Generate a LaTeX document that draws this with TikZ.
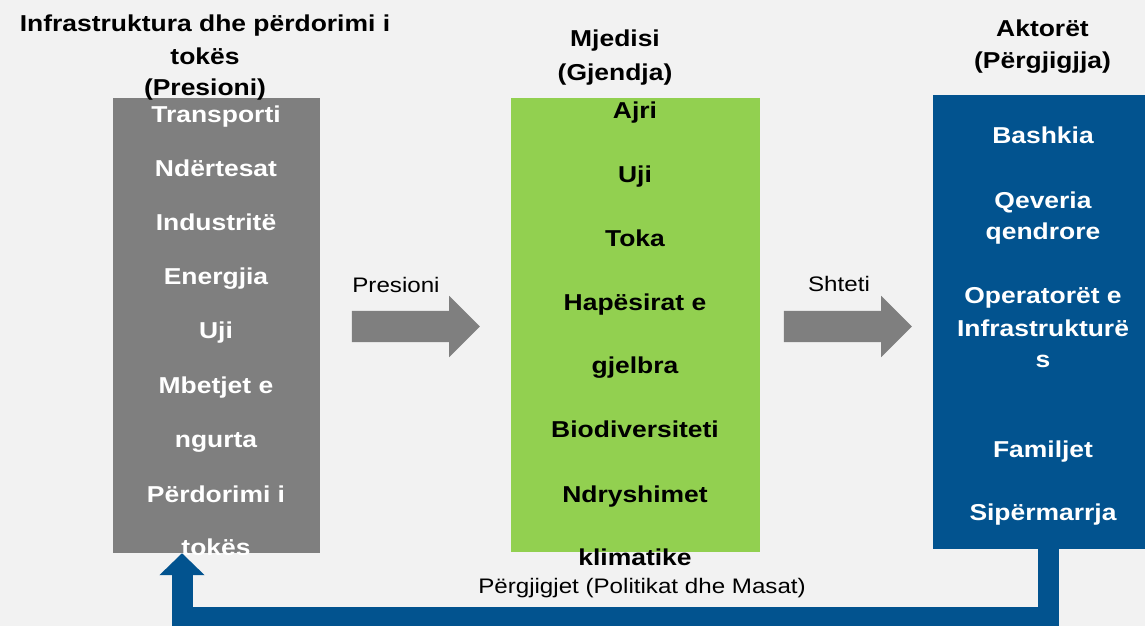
\documentclass[tikz,border=0pt]{standalone}
\usepackage{fontspec}
\setmainfont{Liberation Sans}[FakeStretch=1.15]
\usepackage{xcolor}
\usetikzlibrary{shapes.arrows, arrows.meta}

\definecolor{bggray}{HTML}{F2F2F2}
\definecolor{boxgray}{HTML}{7F7F7F}
\definecolor{boxgreen}{HTML}{92D050}
\definecolor{boxblue}{HTML}{02538F}

\begin{document}
\begin{tikzpicture}[x=1pt, y=-1pt,
        item/.style={anchor=base, inner sep=0pt, font=\fontsize{23}{32}\bfseries\selectfont},
        plain/.style={anchor=base, inner sep=0pt, font=\fontsize{21}{25}\selectfont},
        panel/.style={inner sep=0pt, minimum width=#1},
        blockarrow/.style={single arrow, fill=boxgray, inner xsep=0pt, inner ysep=15.5pt,
            single arrow head extend=15pt, minimum height=128pt},
        feedback/.style={draw=boxblue, line width=21pt, line join=miter,
            -{Triangle[width=44pt, length=22pt]}}]
        \fill[bggray] (0,0) rectangle (1145,626);
        \useasboundingbox (0,0) rectangle (1145,626);

        \node[panel=207pt, minimum height=455pt, fill=boxgray] (infra) at (216.5, 325.5) {};
        \node[panel=249pt, minimum height=454pt, fill=boxgreen] (env) at (635.5, 325) {};
        \node[panel=212pt, minimum height=454pt, fill=boxblue] (actors) at (1039, 322) {};

        \node[item] (t1) at (205, 32) {Infrastruktura dhe përdorimi i};
        \node[item] (t2) at (205, 64) {tokës};
        \node[item] (t3) at (205, 95) {(Presioni)};
        \node[item] (m1) at (615, 47) {Mjedisi};
        \node[item] (m2) at (615, 80) {(Gjendja)};
        \node[item] (a1) at (1042.5, 37) {Aktorët};
        \node[item] (a2) at (1042.5, 68) {(Përgjigjja)};

        \foreach \txt/\yy [count=\i] in {Transporti/122, Ndërtesat/176, Industritë/230,
                Energjia/284, Uji/338, Mbetjet e/393, ngurta/447, Përdorimi i/502, tokës/555}
            \node[item, text=white] (p\i) at (216, \yy) {\txt};

        \foreach \txt/\yy [count=\i] in {Ajri/118, Uji/182, Toka/246, Hapësirat e/310,
                gjelbra/373, Biodiversiteti/437, Ndryshimet/502, klimatike/565}
            \node[item] (s\i) at (635, \yy) {\txt};

        \foreach \txt/\yy [count=\i] in {Bashkia/143, Qeveria/208, qendrore/239,
                Operatorët e/303, Infrastrukturë/336, s/367, Familjet/457, Sipërmarrja/520}
            \node[item, text=white] (r\i) at (1043, \yy) {\txt};

        \node[blockarrow] (pressarrow) at (408, 326.5) {};
        \node[blockarrow] (statearrow) at (840, 326.5) {};
        \node[plain] (presslabel) at (396, 292) {Presioni};
        \node[plain] (statelabel) at (839, 291) {Shteti};
        \node[plain] (resplabel) at (642, 593) {Përgjigjet (Politikat dhe Masat)};

        \draw[feedback] ([xshift=9pt]actors.south) -- ++(0,68) -| ([xshift=-34.5pt]infra.south);
    \end{tikzpicture}
\end{document}
